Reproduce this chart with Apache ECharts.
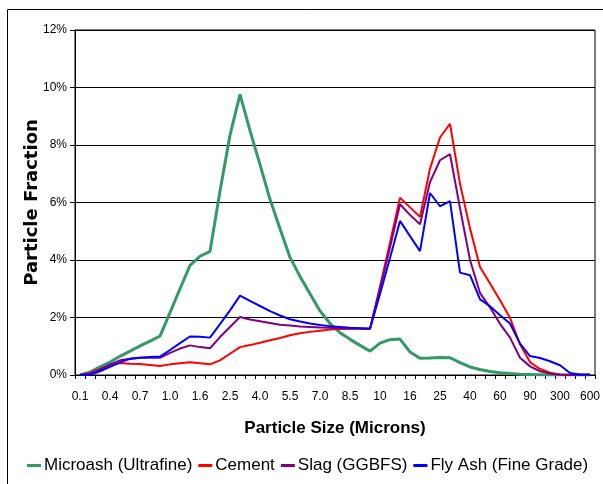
<!DOCTYPE html>
<html>
<head>
<meta charset="utf-8">
<script src="https://cdn.jsdelivr.net/npm/echarts@6/dist/echarts.min.js"></script>
<style>
html,body{margin:0;padding:0;background:#fff;}
#c{width:603px;height:484px;}
</style>
</head>
<body>
<div id="c"></div>
<script>
var categories = ['0.1','0.2','0.3','0.4','0.5','0.6','0.7','0.8','0.9','1.0','1.2','1.4','1.6','1.8','2.0','2.5','3.0','3.5','4.0','4.5','5.0','5.5','6.0','6.5','7.0','7.5','8.0','8.5','9.0','9.5','10','12','14','16','18','20','25','30','35','40','45','50','60','70','80','90','100','200','300','400','500','600'];
var yTicks = [0, 2, 4, 6, 8, 10, 12];
var microash = [0,0.1,0.28,0.45,0.65,0.83,1.01,1.18,1.35,2.17,3.0,3.81,4.13,4.3,6.4,8.34,9.76,8.5,7.32,6.11,5.09,4.09,3.43,2.83,2.23,1.79,1.47,1.24,1.03,0.83,1.11,1.23,1.25,0.8,0.58,0.59,0.61,0.6,0.43,0.28,0.19,0.12,0.08,0.05,0.03,0.02,0.01,0,0,0,0,0];
var cement = [0,0.07,0.21,0.34,0.42,0.39,0.38,0.35,0.31,0.37,0.41,0.44,0.41,0.37,0.51,0.74,0.97,1.04,1.12,1.21,1.29,1.38,1.45,1.5,1.54,1.58,1.6,1.61,1.61,1.61,3.08,4.6,6.17,5.83,5.5,7.18,8.26,8.74,6.65,5.1,3.76,3.18,2.6,1.99,1.07,0.45,0.21,0.08,0.02,0,0,0];
var slag = [0,0.05,0.19,0.37,0.51,0.57,0.6,0.6,0.6,0.77,0.92,1.03,0.97,0.93,1.32,1.67,2.02,1.93,1.87,1.81,1.75,1.72,1.69,1.67,1.65,1.64,1.63,1.62,1.62,1.61,3.0,4.44,5.94,5.57,5.24,6.71,7.47,7.68,5.8,4.0,2.85,2.35,1.78,1.3,0.6,0.3,0.13,0.05,0.01,0,0,0];
var flyash = [0,0.01,0.13,0.28,0.44,0.56,0.6,0.63,0.64,0.87,1.11,1.34,1.33,1.3,1.77,2.25,2.76,2.58,2.4,2.22,2.07,1.94,1.86,1.79,1.74,1.7,1.67,1.64,1.63,1.61,2.82,4.07,5.36,4.83,4.31,6.33,5.87,6.05,3.56,3.47,2.63,2.39,2.08,1.79,1.09,0.66,0.59,0.48,0.34,0.07,0.02,0.02];
var seriesNames = ['Microash (Ultrafine)', 'Cement', 'Slag (GGBFS)', 'Fly Ash (Fine Grade)'];
var colors = ['#339966', '#ff0000', '#800080', '#0000ff'];
var widths = [3, 2, 2, 2];
var seriesData = [microash, cement, slag, flyash];

var sans = "'Liberation Sans', Arial, sans-serif";
var chart = echarts.init(document.getElementById('c'), null, {renderer: 'canvas'});
chart.setOption({
  backgroundColor: '#fff',
  animation: false,
  color: colors,
  graphic: [{
    type: 'rect', silent: true, z: -1,
    shape: {x: 7.5, y: 9.5, width: 700, height: 700},
    style: {fill: 'none', stroke: '#000', lineWidth: 1}
  }],
  grid: {left: 75, right: 5, top: 30, bottom: 109, show: true, borderColor: '#000', borderWidth: 1, backgroundColor: '#fff'},
  legend: {
    left: 22, top: 452,
    icon: 'rect', itemWidth: 14, itemHeight: 3, itemGap: 6,
    textStyle: {fontFamily: sans, fontSize: 17, color: '#000', padding: [0,0,0,-2]},
    data: seriesNames
  },
  xAxis: {
    type: 'category',
    data: categories,
    boundaryGap: true,
    name: 'Particle Size (Microns)',
    nameLocation: 'middle',
    nameGap: 45,
    nameTextStyle: {fontFamily: sans, fontWeight: 'bold', fontSize: 17, color: '#000'},
    axisLine: {lineStyle: {color: '#000', width: 1}},
    axisTick: {show: true, interval: 0, length: 4, lineStyle: {color: '#000'}},
    axisLabel: {interval: 2, margin: 16, fontFamily: sans, fontSize: 12, color: '#000'},
    splitLine: {show: false}
  },
  yAxis: {
    type: 'value',
    min: yTicks[0], max: yTicks[yTicks.length - 1], interval: 2,
    name: 'Particle Fraction',
    nameLocation: 'middle',
    nameRotate: 90,
    nameGap: 34,
    nameMoveOverlap: false,
    nameTextStyle: {fontFamily: "'DejaVu Sans', sans-serif", fontWeight: 'bold', fontSize: 18, color: '#000', padding: [0, 0, 0, 0]},
    axisLine: {show: true, lineStyle: {color: '#000', width: 1}},
    axisTick: {show: true, length: 5, lineStyle: {color: '#000'}},
    axisLabel: {formatter: '{value}%', margin: 8, fontFamily: sans, fontSize: 12, color: '#000'},
    splitLine: {show: true, lineStyle: {color: '#000', width: 1}}
  },
  series: seriesData.map(function (d, i) {
    return {
      name: seriesNames[i],
      type: 'line',
      data: d,
      symbol: 'none',
      smooth: false,
      lineStyle: {color: colors[i], width: widths[i]},
      itemStyle: {color: colors[i]}
    };
  })
});
</script>
</body>
</html>
